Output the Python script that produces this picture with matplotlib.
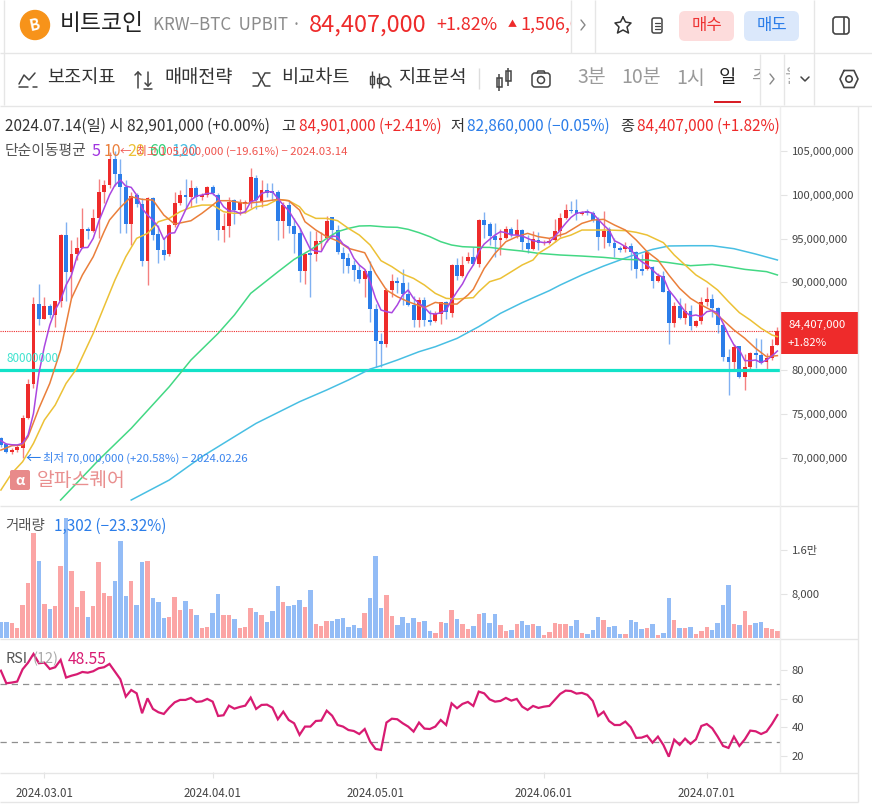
import matplotlib
matplotlib.use('Agg')
import matplotlib.pyplot as plt
from matplotlib.patches import Circle, FancyBboxPatch, Rectangle
from matplotlib.transforms import Bbox, TransformedBbox

plt.rcParams['font.family'] = ['Noto Sans CJK KR', 'DejaVu Sans']

# prices in million KRW, one candle per day from 2024.02.22 to 2024.07.14
opens = [72.20, 71.55, 70.67, 70.86, 71.13, 74.48, 78.40, 87.53, 85.82, 87.34, 86.28, 87.87,
         95.41, 91.22, 93.24, 93.89, 96.09, 95.86, 97.31, 100.35, 101.11, 104.08, 102.37, 100.92,
         96.66, 99.97, 98.95, 92.48, 99.59, 95.52, 93.69, 93.24, 96.55, 99.10, 99.97, 99.78,
         100.81, 99.71, 99.97, 100.92, 99.97, 95.98, 96.43, 99.40, 98.26, 98.91, 99.21, 101.88,
         99.21, 100.54, 100.43, 100.35, 97.04, 98.83, 96.43, 95.60, 91.30, 93.32, 93.24, 94.57,
         95.03, 97.43, 95.98, 93.39, 92.75, 91.99, 91.41, 90.43, 91.30, 87.00, 83.35, 82.97,
         89.13, 90.16, 89.97, 88.64, 87.42, 85.71, 87.99, 85.71, 85.63, 86.39, 87.72, 86.47,
         91.99, 90.73, 92.48, 92.86, 92.10, 97.12, 96.67, 95.30, 94.84, 95.11, 96.06, 95.41,
         95.98, 94.53, 93.77, 94.84, 94.46, 94.46, 94.84, 95.91, 97.35, 98.27, 98.27, 97.77,
         98.15, 97.89, 97.20, 95.15, 96.10, 94.54, 93.89, 93.81, 94.16, 93.51, 91.53, 91.49,
         91.72, 90.16, 90.73, 89.02, 85.40, 87.31, 85.90, 86.74, 85.02, 85.59, 87.80, 88.07,
         87.04, 85.14, 81.45, 80.95, 82.74, 79.24, 80.38, 81.98, 81.71, 80.95, 81.33, 82.901]
highs = [72.35, 71.63, 71.05, 71.44, 74.86, 78.93, 88.37, 89.81, 88.37, 87.53, 87.87, 95.52,
         96.89, 94.84, 95.22, 98.45, 96.36, 98.34, 101.76, 101.69, 104.90, 105.00, 104.08, 101.69,
         100.35, 100.16, 99.59, 99.78, 99.78, 96.55, 95.03, 96.66, 100.35, 100.54, 101.76, 101.69,
         100.99, 100.16, 100.99, 101.11, 100.16, 97.88, 99.78, 99.48, 99.48, 99.40, 103.02, 102.26,
         101.69, 101.30, 101.30, 100.54, 99.21, 99.40, 97.31, 96.17, 93.32, 95.87, 95.87, 95.79,
         97.58, 97.50, 96.55, 94.00, 93.32, 92.56, 91.99, 91.49, 92.48, 87.53, 84.19, 89.32,
         90.96, 90.58, 91.49, 90.08, 88.45, 88.37, 88.37, 86.85, 86.77, 87.80, 87.88, 92.06,
         92.75, 93.01, 93.51, 94.00, 97.20, 98.00, 96.93, 96.74, 96.06, 96.44, 96.29, 97.20,
         96.06, 95.41, 95.90, 95.79, 94.84, 95.03, 97.20, 97.89, 98.95, 99.33, 99.52, 98.19,
         98.34, 98.19, 97.43, 98.15, 96.29, 95.03, 94.16, 94.57, 94.54, 93.62, 93.24, 93.62,
         91.87, 91.03, 91.34, 89.13, 87.80, 88.18, 87.69, 87.42, 85.71, 88.37, 89.44, 88.64,
         87.15, 85.33, 82.36, 82.97, 82.74, 81.83, 82.09, 83.62, 83.50, 81.90, 83.50, 84.901]
lows = [71.20, 70.48, 70.41, 70.67, 70.00, 74.37, 77.90, 85.13, 85.82, 85.97, 84.94, 87.23,
        87.91, 88.18, 92.55, 93.89, 94.91, 95.79, 95.03, 99.02, 100.73, 101.00, 95.60, 95.67,
        94.27, 98.64, 91.87, 89.70, 94.84, 92.17, 92.55, 93.01, 96.36, 98.83, 98.45, 98.57,
        99.02, 99.40, 99.78, 99.97, 94.84, 94.65, 95.14, 96.66, 97.69, 97.88, 98.45, 98.34,
        98.57, 99.78, 99.40, 94.84, 95.03, 95.60, 93.31, 90.08, 89.82, 88.37, 92.48, 93.70,
        94.65, 95.03, 93.24, 91.03, 91.03, 90.20, 89.89, 88.37, 85.52, 80.30, 80.38, 82.66,
        88.29, 88.75, 87.42, 87.31, 84.95, 84.95, 84.99, 85.14, 85.52, 85.25, 85.78, 86.09,
        90.27, 90.65, 92.18, 91.99, 91.72, 95.03, 94.27, 92.86, 93.13, 94.91, 95.22, 95.03,
        93.70, 93.32, 93.70, 93.70, 94.27, 94.38, 94.65, 95.22, 97.20, 97.89, 97.12, 97.69,
        97.69, 96.93, 93.70, 93.89, 94.19, 92.86, 93.43, 93.47, 91.42, 90.54, 90.85, 91.42,
        89.36, 90.08, 88.94, 82.97, 84.95, 85.78, 85.25, 84.57, 84.95, 85.25, 87.31, 86.01,
        84.26, 81.03, 77.15, 80.00, 79.05, 77.72, 80.08, 80.19, 80.69, 80.08, 81.14, 82.86]
closes = [71.44, 70.67, 70.86, 71.25, 74.48, 78.40, 87.53, 85.82, 87.34, 86.28, 87.87, 95.41,
          91.22, 93.24, 93.89, 96.09, 95.86, 97.31, 100.35, 101.11, 104.08, 102.37, 100.92, 96.66,
          99.86, 98.95, 92.48, 99.59, 95.41, 93.69, 93.12, 96.55, 99.10, 99.97, 99.78, 100.81,
          99.71, 99.97, 100.92, 100.16, 95.98, 96.43, 99.21, 98.26, 99.02, 99.21, 101.99, 99.40,
          100.54, 100.24, 100.16, 97.04, 98.83, 96.43, 95.52, 91.34, 93.24, 93.13, 94.73, 94.73,
          97.05, 95.98, 93.51, 92.63, 91.87, 91.41, 90.43, 91.30, 87.00, 83.35, 82.97, 89.13,
          90.20, 89.97, 88.64, 87.42, 85.71, 87.99, 85.71, 85.48, 86.39, 87.72, 86.66, 91.99,
          90.73, 91.99, 92.86, 92.10, 97.12, 96.55, 95.30, 94.84, 95.03, 96.06, 95.41, 95.98,
          94.65, 93.77, 94.91, 94.46, 94.65, 94.73, 95.87, 97.35, 98.27, 98.11, 97.77, 98.00,
          97.96, 97.12, 95.15, 95.87, 94.46, 93.89, 93.70, 94.16, 93.51, 91.53, 91.30, 93.51,
          90.16, 90.77, 88.94, 85.40, 87.31, 85.90, 86.77, 85.02, 85.59, 87.73, 88.07, 87.04,
          85.14, 81.52, 80.95, 82.59, 79.17, 80.31, 81.98, 81.71, 80.84, 81.33, 82.74, 84.407]

volumes = [2900, 2900, 2730, 1820, 6000, 10000, 19090, 14000, 6180, 5270, 5820, 13090,
           21800, 12180, 5640, 8540, 3820, 5820, 13820, 8180, 7640, 10360, 17630, 7640,
           10360, 6000, 13820, 14000, 7270, 6540, 3640, 3820, 7450, 5090, 6730, 5270,
           4180, 1820, 2000, 4550, 8000, 4180, 4180, 3450, 1820, 2000, 5450, 4730,
           4180, 2910, 4910, 9450, 6540, 5820, 6000, 6910, 5640, 8730, 2550, 2180,
           3090, 3090, 3450, 3640, 2000, 2360, 1820, 4550, 7270, 14900, 5450, 7820,
           4000, 2360, 3820, 2730, 3640, 2910, 3090, 1270, 910, 2910, 2730, 5090,
           3450, 2550, 1640, 2180, 4360, 4550, 2730, 4360, 2360, 1270, 1450, 2550,
           3090, 2360, 2550, 2180, 550, 1090, 2730, 2550, 2550, 2180, 3270, 910,
           730, 1450, 3820, 3270, 2000, 2180, 730, 730, 3270, 2910, 1640, 1820,
           2550, 550, 910, 7270, 3270, 1820, 1820, 2000, 730, 1270, 2000, 1450,
           2730, 6000, 9640, 2550, 2360, 4910, 2360, 2730, 2910, 1820, 1640, 1302]

rsi = [79.5, 70.7, 71.2, 71.9, 80.5, 85.1, 91.2, 84.7, 85.1, 80.7, 81.9, 87.0,
       74.7, 76.0, 77.0, 78.6, 78.1, 79.1, 81.2, 81.9, 84.2, 78.8, 73.5, 61.4,
       66.0, 63.7, 49.8, 60.2, 52.8, 50.5, 49.3, 53.7, 57.4, 59.1, 59.1, 60.5,
       57.7, 58.1, 59.8, 57.9, 47.9, 48.4, 55.1, 53.0, 54.2, 55.1, 60.7, 52.8,
       55.6, 55.8, 53.7, 45.6, 50.9, 45.1, 42.8, 34.7, 40.5, 40.5, 44.4, 44.7,
       51.6, 48.1, 41.6, 40.5, 38.1, 37.4, 35.3, 38.8, 30.0, 24.9, 24.2, 43.3,
       46.0, 45.6, 42.8, 40.5, 37.0, 43.3, 39.1, 38.8, 40.5, 45.1, 41.6, 56.7,
       53.3, 56.3, 57.7, 54.9, 64.9, 63.7, 59.5, 57.9, 58.4, 60.5, 58.6, 59.8,
       54.4, 52.1, 54.9, 53.5, 54.4, 54.9, 59.1, 63.3, 65.6, 65.3, 63.5, 64.0,
       62.6, 58.4, 47.9, 50.9, 44.4, 41.6, 41.6, 44.0, 40.0, 32.6, 32.8, 34.2,
       29.3, 33.5, 27.7, 19.5, 31.4, 27.7, 32.1, 28.4, 31.6, 40.9, 42.3, 39.3,
       33.5, 27.0, 25.6, 33.5, 27.0, 31.6, 37.7, 37.2, 35.3, 37.0, 42.3, 48.55]

# moving averages
ma5 = [71.93, 71.55, 71.47, 71.44, 71.63, 72.58, 75.05, 79.62, 82.66, 85.13, 86.85, 87.99,
       89.70, 90.84, 92.93, 93.96, 93.99, 95.03, 96.93, 98.45, 99.97, 101.11, 101.69, 101.00,
       100.85, 99.97, 98.45, 97.69, 97.12, 96.28, 94.91, 95.60, 95.67, 96.93, 98.26, 99.40,
       99.86, 99.97, 100.16, 100.16, 99.59, 98.64, 98.15, 98.15, 97.88, 98.07, 99.21, 99.40,
       100.16, 100.35, 100.35, 99.59, 98.83, 98.20, 97.20, 96.28, 95.03, 93.77, 93.58, 93.51,
       94.65, 95.30, 95.22, 94.38, 94.00, 92.75, 91.99, 91.49, 90.08, 88.18, 86.85, 86.66,
       86.54, 87.42, 88.56, 89.13, 88.18, 87.61, 87.15, 86.47, 86.39, 86.54, 86.85, 87.99,
       88.94, 89.82, 91.03, 91.99, 93.51, 94.38, 94.91, 95.41, 95.79, 95.68, 95.41, 95.41,
       95.30, 95.03, 94.76, 94.65, 94.54, 94.60, 95.22, 95.98, 96.74, 97.43, 97.89, 98.00,
       98.07, 97.89, 97.20, 96.55, 95.98, 94.76, 94.46, 94.08, 93.77, 92.94, 92.37, 91.99,
       91.42, 90.85, 90.58, 89.13, 88.37, 87.53, 86.66, 86.17, 86.28, 86.09, 86.66, 86.77,
       86.55, 85.33, 84.00, 82.86, 82.28, 81.07, 81.07, 81.14, 80.84, 81.14, 81.60, 82.17]
ma10_idx = [0, 2, 4, 5, 7, 9, 11, 13, 15, 17, 19, 20, 22, 24, 26, 28, 30, 32, 35, 37, 39, 40, 42, 45,
            48, 51, 53, 55, 56, 58, 59, 60, 62, 64, 67, 69, 71, 73, 75, 78, 80, 82, 84, 86, 87, 89,
            91, 93, 95, 97, 99, 101, 102, 104, 106, 107, 109, 111, 113, 115, 117, 119, 121, 123,
            125, 127, 129, 131, 133, 135, 137, 139, 141, 143]
ma10 = [70.86, 71.36, 71.44, 72.39, 75.62, 78.47, 82.28, 88.18, 90.84, 92.93, 95.79, 97.12, 98.57,
        99.78, 99.48, 99.40, 97.69, 96.66, 97.04, 97.88, 98.83, 99.33, 99.33, 99.02, 99.21, 99.48,
        99.33, 98.26, 96.93, 95.98, 95.60, 95.22, 94.73, 93.89, 93.39, 91.03, 89.13, 88.37, 87.80,
        87.12, 87.72, 87.53, 87.53, 88.56, 89.21, 91.60, 93.32, 94.65, 95.22, 95.60, 95.22, 95.03,
        95.22, 95.60, 96.36, 96.74, 97.12, 97.20, 96.55, 95.98, 94.84, 93.51, 92.56, 90.85, 89.32,
        88.18, 87.42, 86.77, 85.71, 84.57, 83.62, 82.47, 81.52, 81.64]
ma20_idx = [0, 2, 4, 6, 8, 10, 12, 14, 17, 19, 21, 23, 25, 27, 29, 31, 33, 35, 37, 39, 41, 43, 45,
            47, 49, 51, 53, 55, 56, 58, 60, 62, 64, 66, 68, 70, 72, 74, 76, 78, 80, 82, 84, 86, 87,
            88, 90, 92, 94, 96, 98, 99, 101, 103, 105, 107, 109, 112, 115, 117, 119, 122, 124, 126,
            128, 130, 132, 134, 136, 138, 140, 142, 143]
ma20 = [66.30, 68.20, 69.53, 71.63, 74.29, 76.00, 78.47, 80.19, 84.18, 87.23, 90.27, 92.93, 95.03,
        95.60, 96.93, 97.31, 98.07, 98.57, 98.83, 98.83, 98.07, 97.88, 97.96, 98.64, 98.83, 99.48,
        99.33, 98.64, 97.88, 97.31, 97.31, 97.05, 96.17, 95.41, 94.27, 92.48, 91.80, 90.96, 90.46,
        89.70, 88.75, 88.18, 88.10, 88.22, 88.26, 88.94, 90.08, 90.46, 91.22, 91.99, 92.56, 93.32,
        94.08, 95.03, 95.41, 95.98, 95.98, 95.98, 95.91, 95.72, 95.41, 94.54, 93.13, 91.99, 90.85,
        90.08, 89.13, 87.80, 86.55, 85.71, 84.76, 84.00, 83.81]
ma60_idx = [11, 18, 24, 31, 35, 40, 43, 46, 51, 54, 57, 60, 62, 64, 66, 68, 71, 73, 75, 77, 79, 81,
            83, 85, 88, 90, 93, 96, 99, 103, 107, 111, 115, 119, 123, 127, 131, 134, 137, 141, 143]
ma60 = [65.16, 69.72, 73.34, 78.09, 81.14, 84.18, 86.28, 88.75, 91.20, 92.63, 93.70, 95.03, 95.79,
        96.17, 96.44, 96.47, 96.32, 96.29, 96.06, 95.68, 95.22, 94.65, 94.27, 94.08, 94.00, 94.00,
        93.77, 93.58, 93.32, 93.13, 93.01, 92.86, 92.63, 92.56, 92.26, 91.91, 92.06, 91.80, 91.49,
        91.23, 90.85]
ma120_idx = [24, 31, 37, 43, 47, 55, 60, 64, 68, 70, 73, 77, 80, 84, 88, 92, 96, 101, 103, 107,
             111, 116, 120, 123, 127, 131, 135, 139, 143]
ma120 = [65.16, 67.44, 70.10, 72.39, 73.91, 76.38, 77.72, 78.86, 80.11, 80.49, 81.14, 82.09, 82.66,
         83.61, 84.95, 86.47, 87.69, 89.06, 89.70, 90.85, 91.87, 93.01, 93.77, 94.16, 94.19, 94.19,
         93.85, 93.24, 92.56]

# 85,000,000 sits under the current price box, so it is left out
price_ticks = [70, 75, 80, 90, 95, 100, 105]
volume_ticks = [8000, 16000]
volume_tick_labels = ['8,000', '1.6만']
rsi_ticks = [20, 40, 60, 80]
month_idx = [8, 39, 69, 100, 130]
month_labels = ['2024.03.01', '2024.04.01', '2024.05.01', '2024.06.01', '2024.07.01']

RED = '#ee2b2b'
BLUE = '#2b7de9'
GRID = '#e6e6e6'
W, H = 872, 806

fig = plt.figure(figsize=(W / 100, H / 100), dpi=100, facecolor='white')


def px_axes(x0, y0, x1, y1):
    a = fig.add_axes([x0 / W, 1 - y1 / H, (x1 - x0) / W, (y1 - y0) / H])
    a.patch.set_alpha(0)
    a.set_xticks([])
    a.set_yticks([])
    for s in a.spines.values():
        s.set_visible(False)
    return a


x = list(range(len(closes)))
xlim = (-0.166, 143.48)
colors = [RED if c >= o else BLUE for o, c in zip(opens, closes)]

# price panel
ax = px_axes(0, 106, 780, 505)
ax.set_xlim(xlim)
ax.set_ylim(64.59, 110.14)
ax.axhline(84.407, color=RED, lw=0.8, ls=(0, (1, 1)), zorder=1)
ax.axhline(80, color='#12e2c8', lw=2.3, zorder=4)
ax.vlines(x, lows, highs, colors=colors, lw=1.0, alpha=0.6, zorder=2)
ax.bar(x, [abs(c - o) for o, c in zip(opens, closes)], bottom=[min(o, c) for o, c in zip(opens, closes)],
       width=0.72, color=colors, linewidth=0, zorder=3)
ax.plot(ma120_idx, ma120, color='#48bfe3', lw=1.1, zorder=5)
ax.plot(ma60_idx, ma60, color='#43d884', lw=1.1, zorder=5)
ax.plot(ma20_idx, ma20, color='#ecc136', lw=1.1, zorder=5)
ax.plot(ma10_idx, ma10, color='#ea7f3b', lw=1.1, zorder=5)
ax.plot(x, ma5, color='#ab47e0', lw=1.1, zorder=5)

# volume panel
ax_v = px_axes(0, 506, 780, 638)
ax_v.set_xlim(xlim)
ax_v.set_ylim(0, 24000)
vol_colors = ['#fba5a5' if c == RED else '#93bcf6' for c in colors]
ax_v.bar(x, volumes, width=0.82, color=vol_colors, linewidth=0)

# RSI panel
ax_r = px_axes(0, 639, 780, 772.3)
ax_r.set_xlim(xlim)
ax_r.set_ylim(8.6, 101.6)
for lvl in (70, 30):
    ax_r.axhline(lvl, color='#8f8f8f', lw=0.9, ls=(0, (5, 4)))
ax_r.plot(x, rsi, color='#d81b72', lw=1.6, solid_joinstyle='miter')

# axes on the right and the bottom, same scales as the panels
for a, ticks, labels in [(ax, price_ticks, [f'{t},000,000' for t in price_ticks]),
                         (ax_v, volume_ticks, volume_tick_labels),
                         (ax_r, rsi_ticks, [str(t) for t in rsi_ticks])]:
    a.yaxis.tick_right()
    a.set_yticks(ticks, labels)
    a.tick_params(axis='y', length=5, width=0.8, color='#e3e3e3', labelcolor='#444444',
                  labelsize=8.1, pad=3.5)
ax_r.set_xticks(month_idx, month_labels)
ax_r.tick_params(axis='x', length=4, width=0.8, color='#e3e3e3', labelcolor='#444444',
                 labelsize=8.3, pad=6.5)

# page furniture in pixel coordinates
ui = px_axes(0, 0, W, H)
ui.set_xlim(0, W)
ui.set_ylim(H, 0)
ui.set_zorder(10)


def hline(y, x0=0, x1=W, c=GRID, lw=1.0):
    ui.plot([x0, x1], [y, y], color=c, lw=lw, solid_capstyle='butt')


def vline(px, y0, y1, c=GRID, lw=1.0):
    ui.plot([px, px], [y0, y1], color=c, lw=lw, solid_capstyle='butt')


def txt(px, py, s, c='#333333', size=10, ha='left', **kw):
    return ui.text(px, py, s, color=c, fontsize=size, ha=ha, va='center', **kw)


def poly(xs, ys, c='#444444', lw=1.2):
    ui.plot(xs, ys, color=c, lw=lw, solid_capstyle='round', solid_joinstyle='round')


def clipped(t, x0, y0, x1, y1):
    t.set_clip_box(TransformedBbox(Bbox([[x0, y0], [x1, y1]]), ui.transData))
    t.set_clip_on(True)


hline(53)
hline(105.5)
hline(505.5, x1=858)
hline(638.5, x1=858)
hline(772.5, x1=858)
hline(802, x1=858)
vline(4, 0, 105)
vline(571, 0, 53)
vline(595, 0, 53)
vline(814, 0, 105)
vline(760, 54, 105)
vline(784, 54, 105)
vline(780, 106, 772, c='#eeeeee')
vline(858, 106, 802)

# header row
ui.add_patch(Circle((35, 25), 14.5, color='#f7931a'))
txt(35, 25, 'B', c='white', size=11, ha='center', fontweight='bold', rotation=12)
txt(60, 24, '비트코인', c='#222222', size=16.4, fontweight='medium')
txt(153, 25, 'KRW−BTC  UPBIT ·', c='#8b8b8b', size=12.2)
txt(309, 25, '84,407,000', c=RED, size=16.9, fontweight='medium')
txt(436, 25, '+1.82%', c=RED, size=12.9)
txt(508, 25, '▲', c=RED, size=6.5)
t = txt(520, 25, '1,506,000', c=RED, size=12.9)
clipped(t, 500, 0, 571, 53)
poly([581, 585, 581], [20, 25, 30], c='#888888', lw=1)

# star
poly([623, 625.5, 631, 627, 628.5, 623, 617.5, 619, 615, 620.5, 623],
     [17, 22, 23, 27, 33, 30, 33, 27, 23, 22, 17], c='#333333', lw=1.1)
# clipboard
ui.add_patch(FancyBboxPatch((652, 18), 10, 15, boxstyle='round,pad=0,rounding_size=2', fc='none', ec='#444444', lw=1.1))
poly([654.5, 659.5], [23, 23], lw=0.9)
poly([654.5, 659.5], [26, 26], lw=0.9)
poly([654.5, 659.5], [29, 29], lw=0.9)
ui.add_patch(FancyBboxPatch((679, 11), 55, 30, boxstyle='round,pad=0,rounding_size=6', fc='#fddcdc', ec='none'))
txt(706.5, 25.5, '매수', c='#ee3333', size=12, ha='center', fontweight='medium')
ui.add_patch(FancyBboxPatch((744, 11), 55, 30, boxstyle='round,pad=0,rounding_size=6', fc='#dbe8fb', ec='none'))
txt(771.5, 25.5, '매도', c='#2b7de9', size=12, ha='center', fontweight='medium')
ui.add_patch(FancyBboxPatch((833, 17), 16, 17, boxstyle='round,pad=0,rounding_size=3', fc='none', ec='#444444', lw=1.2))
vline(844, 17, 34, c='#444444', lw=1.2)

# tool row
for px, s in [(47, '보조지표'), (164, '매매전략'), (281, '비교차트'), (398, '지표분석')]:
    txt(px, 78, s, c='#333333', size=13.4, fontweight='medium')
poly([19, 24, 29, 35], [84, 75, 80, 73], lw=1.1)
poly([19, 28], [87, 87], lw=1.1)
poly([33, 37], [87, 87], lw=1.1)
poly([138, 138], [72, 88], lw=1.1)
poly([135, 138, 141], [75, 72, 75], lw=1.1)
poly([148, 148], [72, 86], lw=1.1)
poly([145, 148, 151], [83, 86, 83], lw=1.1)
poly([144, 152], [89, 89], lw=1.1)
poly([253, 258, 265, 270], [73, 73, 86, 86], lw=1.1)
poly([253, 258, 265, 270], [86, 86, 73, 73], lw=1.1)
# indicator magnifier icon
for px, y0, y1, r0, r1 in [(372, 71, 88, 76, 84), (379, 73, 88, 78, 83)]:
    vline(px, y0, y1, c='#444444', lw=1)
    ui.add_patch(Rectangle((px - 2, r0), 4, r1 - r0, fc='white', ec='#444444', lw=1))
ui.add_patch(Circle((385, 81), 4, fc='white', ec='#444444', lw=1.1))
poly([388, 391], [84, 87], lw=1.1)
vline(479, 68, 89, c='#dddddd')
# candle icon
for px, y0, y1, r0, r1 in [(499, 74, 91, 78, 87), (508, 68, 86, 71, 81)]:
    vline(px, y0, y1, c='#444444', lw=1.1)
    ui.add_patch(Rectangle((px - 2.5, r0), 5, r1 - r0, fc='white', ec='#444444', lw=1.1))
# camera icon
ui.add_patch(FancyBboxPatch((532, 73), 18, 14, boxstyle='round,pad=0,rounding_size=3', fc='none', ec='#444444', lw=1.1))
ui.add_patch(Circle((541, 80), 3.5, fc='none', ec='#444444', lw=1.1))
poly([537, 538, 544, 545], [73, 71, 71, 73], lw=1.1)

for px, s in [(577, '3분'), (621, '10분'), (676, '1시')]:
    txt(px, 78, s, c='#9a9a9a', size=14)
txt(719, 78, '일', c='#222222', size=13.5, fontweight='medium')
t = txt(751, 78, '주', c='#9a9a9a', size=14)
clipped(t, 740, 54, 760, 105)
poly([770, 774, 770], [74, 79, 84], c='#888888', lw=1)
t = txt(784, 78, '월', c='#aaaaaa', size=14)
clipped(t, 784, 54, 790, 105)
poly([801, 805, 809], [77, 81, 77], c='#444444', lw=1.1)
ui.add_patch(Rectangle((714, 101), 27, 2, fc='#d81f26', ec='none'))
poly([844, 854, 858, 854, 844, 840, 844], [70.5, 70.5, 79, 87.5, 87.5, 79, 70.5], lw=1.2)
ui.add_patch(Circle((849, 79), 3.2, fc='none', ec='#444444', lw=1.2))

# ohlc line
txt(5, 126, '2024.07.14(일) 시 82,901,000 (+0.00%)', size=11.05)
txt(281, 126, '고', size=11)
txt(299, 126, '84,901,000 (+2.41%)', c=RED, size=11)
txt(450, 126, '저', size=11)
txt(467, 126, '82,860,000 (−0.05%)', c=BLUE, size=11)
txt(620, 126, '종', size=11)
txt(637, 126, '84,407,000 (+1.82%)', c=RED, size=11)

# indicator legend
txt(5, 151, '단순이동평균', c='#555555', size=10.7)
txt(91, 151, '5', c='#a033e0', size=11.5)
txt(104, 151, '10', c='#ea7f3b', size=11.5)
txt(127, 151, '20', c='#ecc136', size=11.5)
txt(149, 151, '60', c='#35d17a', size=11.5)
txt(172, 151, '120', c='#48bfe3', size=11.5)

# high, low and level annotations
txt(120, 151, '←  최고 105,000,000 (−19.61%) − 2024.03.14', c='#f0554f', size=8.2)
txt(25, 458, '←', c='#2b7de9', size=11)
txt(43, 458, '최저 70,000,000 (+20.58%) − 2024.02.26', c='#3b85ee', size=8.2)
txt(6, 359, '80000000', c='#3fe3cf', size=8.4)

# current price box
ui.add_patch(Rectangle((781, 312), 77, 42, fc=RED, ec='none'))
txt(788, 325, '84,407,000', c='white', size=8.2)
txt(788, 343, '+1.82%', c='white', size=8.2)

# watermark
ui.add_patch(FancyBboxPatch((10, 470), 20, 20, boxstyle='round,pad=0,rounding_size=2', fc='#e88a8a', ec='none'))
txt(20, 481, 'α', c='white', size=10, ha='center', fontweight='bold')
txt(37, 480, '알파스퀘어', c='#e98f8f', size=13.9)

# panel titles
txt(5, 526, '거래량', c='#555555', size=10.4)
txt(54, 526, '1,302 (−23.32%)', c=BLUE, size=11)
txt(5, 659, 'RSI', c='#555555', size=10.4)
txt(33, 659, '(12)', c='#aaaaaa', size=10.4)
txt(68, 659, '48.55', c='#d81b72', size=11.2)

fig.savefig('out.png', dpi=100)
